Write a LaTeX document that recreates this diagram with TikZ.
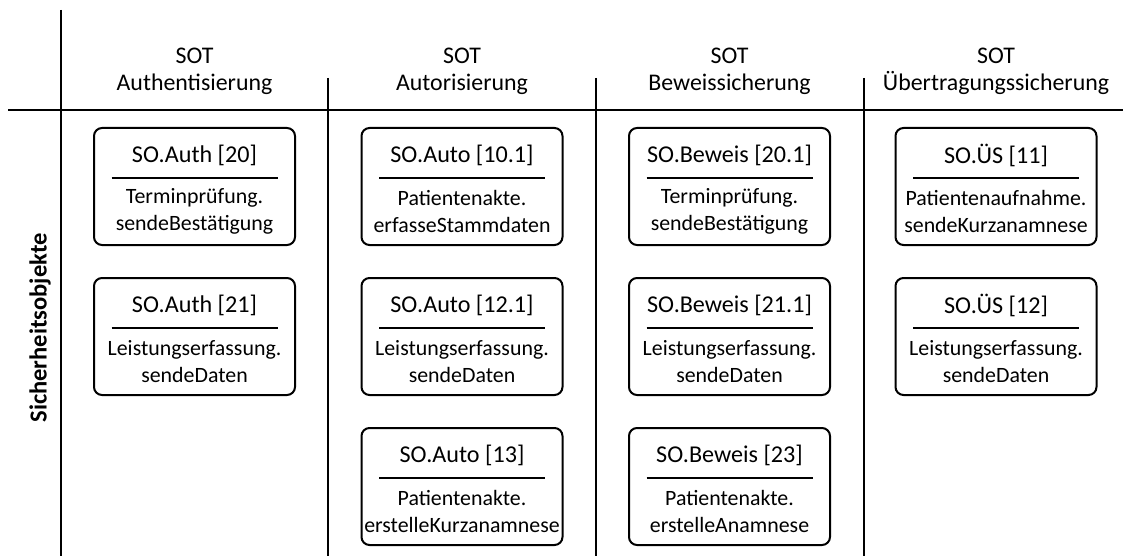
\documentclass[tikz,border=0pt]{standalone}
\usepackage{fontspec}
\setmainfont{Carlito}

% one security object: name, x, top y, title, first and second line
\newcommand{\soBox}[6]{%
	\node [sobox] (#1) at (#2,#3+58.5) {};
	\node [sotitle] (#1-t) at (#2,#3+27) {#4};
	\draw [sosep] (#2-83,#3+50) -- (#2+83,#3+50);
	\node [sobody] (#1-b) at (#2,#3+83.5) {#5\\#6};
}

\begin{document}
\begin{tikzpicture}[x=0.75pt, y=-0.75pt, line width=1.5pt,
	sobox/.style={draw, rounded corners=6pt, minimum width=150.75pt, minimum height=87.75pt, inner sep=0pt},
	sotitle/.style={inner sep=0pt, font=\fontsize{18.1}{20}\selectfont},
	sobody/.style={inner sep=0pt, align=center, font=\fontsize{16.4}{20.25}\selectfont},
	sosep/.style={line width=1.5pt},
	sothead/.style={inner sep=0pt, align=center, font=\fontsize{17.9}{20.25}\selectfont}]
	\useasboundingbox (0,0) rectangle (1123,556);

	% grid
	\draw (61,10) -- (61,556);
	\draw (8,110) -- (1123,110);
	\foreach \x in {328,596,864}
		\draw (\x,78) -- (\x,556);

	% headers
	\node [sothead] (H1) at (194.5,71) {SOT\\Authentisierung};
	\node [sothead] (H2) at (462,71) {SOT\\Autorisierung};
	\node [sothead] (H3) at (729.5,71) {SOT\\Beweissicherung};
	\node [sothead] (H4) at (996,71) {SOT\\Übertragungssicherung};
	\node [rotate=90, inner sep=0pt, font=\fontsize{18.4}{20}\selectfont\bfseries] (SO) at (40,328) {Sicherheitsobjekte};

	% Authentisierung
	\soBox{auth20}{194.5}{128}{SO.Auth [20]}{Terminprüfung.}{sendeBestätigung}
	\soBox{auth21}{194.5}{278}{SO.Auth [21]}{Leistungserfassung.}{sendeDaten}
	% Autorisierung
	\soBox{auto10}{462}{128}{SO.Auto [10.1]}{Patientenakte.}{erfasseStammdaten}
	\soBox{auto12}{462}{278}{SO.Auto [12.1]}{Leistungserfassung.}{sendeDaten}
	\soBox{auto13}{462}{428}{SO.Auto [13]}{Patientenakte.}{erstelleKurzanamnese}
	% Beweissicherung
	\soBox{bew20}{729.5}{128}{SO.Beweis [20.1]}{Terminprüfung.}{sendeBestätigung}
	\soBox{bew21}{729.5}{278}{SO.Beweis [21.1]}{Leistungserfassung.}{sendeDaten}
	\soBox{bew23}{729.5}{428}{SO.Beweis [23]}{Patientenakte.}{erstelleAnamnese}
	% Übertragungssicherung
	\soBox{ues11}{996}{128}{SO.ÜS [11]}{Patientenaufnahme.}{sendeKurzanamnese}
	\soBox{ues12}{996}{278}{SO.ÜS [12]}{Leistungserfassung.}{sendeDaten}
\end{tikzpicture}
\end{document}
